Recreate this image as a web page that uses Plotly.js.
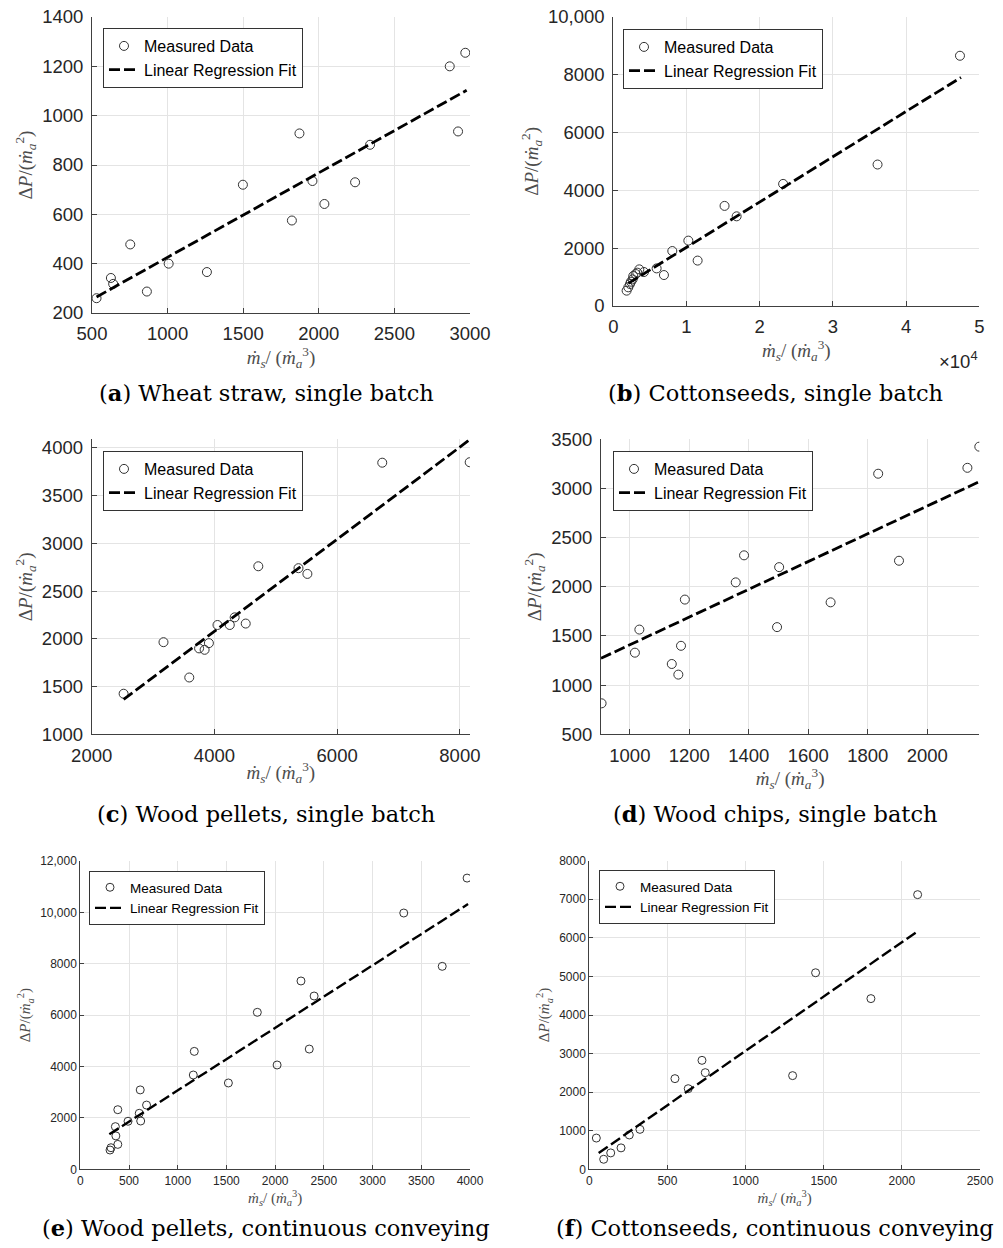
<!DOCTYPE html>
<html>
<head>
<meta charset="utf-8">
<script src="https://cdn.plot.ly/plotly-3.0.1.min.js"></script>
<style>html,body{margin:0;padding:0;background:#fff;}#chart{width:1003px;height:1248px;}</style>
</head>
<body>
<div id="chart"></div>
<script>
// ---------- data ----------
const aX = [530, 625, 640, 753, 863, 1007, 1260, 1498, 1822, 1872, 1958, 2037, 2240, 2339, 2866, 2921, 2969];
const aY = [260, 342, 318, 478, 287, 400, 366, 720, 575, 928, 735, 642, 730, 882, 1200, 936, 1255];
const aFitX = [530, 2978];
const aFitY = [265, 1103];

const bX = [1820, 2050, 2280, 2410, 2640, 2730, 3050, 3280, 3550, 4190, 5920, 6920, 8060, 10250, 11520, 15200, 16850, 23200, 36100, 47360];
const bY = [530, 645, 760, 840, 920, 1037, 1106, 1152, 1267, 1175, 1300, 1070, 1900, 2260, 1570, 3460, 3100, 4220, 4890, 8650];
const bFitX = [2050, 47500];
const bFitY = [783, 7900];

const cX = [2520, 3170, 3590, 3750, 3840, 3910, 4050, 4250, 4330, 4510, 4715, 5370, 5515, 6735, 8160];
const cY = [1425, 1965, 1595, 1900, 1885, 1955, 2145, 2145, 2225, 2160, 2760, 2740, 2680, 3845, 3850];
const cFitX = [2520, 8165];
const cFitY = [1365, 4088];

const dX = [905, 1017, 1032, 1141, 1163, 1172, 1185, 1356, 1384, 1495, 1502, 1582, 1675, 1835, 1905, 2135, 2175];
const dY = [815, 1330, 1565, 1215, 1107, 1400, 1870, 2045, 2320, 1590, 2200, 2840, 1842, 3150, 2265, 3210, 3425];
const dFitX = [903, 2176];
const dFitY = [1273, 3070];

const eX = [305, 315, 365, 360, 385, 385, 490, 605, 620, 615, 680, 1160, 1170, 1520, 1817, 2020, 2265, 2350, 2400, 3320, 3715, 3970];
const eY = [750, 840, 1300, 1660, 970, 2320, 1870, 2180, 1880, 3090, 2500, 3670, 4590, 3360, 6110, 4060, 7330, 4680, 6745, 9975, 7900, 11335];
const eFitX = [298, 3980];
const eFitY = [1362, 10324];

const fX = [45, 92, 137, 203, 256, 324, 548, 633, 721, 742, 1301, 1448, 1802, 2101];
const fY = [810, 260, 425, 555, 890, 1035, 2350, 2090, 2825, 2505, 2428, 5095, 4425, 7120];
const fFitX = [60, 2095];
const fFitY = [423, 6154];

// tick values / labels
const aXTicks = [500, 1000, 1500, 2000, 2500, 3000];
const aYTicks = [200, 400, 600, 800, 1000, 1200, 1400];
const bXTicks = [0, 10000, 20000, 30000, 40000, 50000];
const bXTickText = ['0', '1', '2', '3', '4', '5'];
const bYTicks = [0, 2000, 4000, 6000, 8000, 10000];
const bYTickText = ['0', '2000', '4000', '6000', '8000', '10,000'];
const cXTicks = [2000, 4000, 6000, 8000];
const cYTicks = [1000, 1500, 2000, 2500, 3000, 3500, 4000];
const dXTicks = [1000, 1200, 1400, 1600, 1800, 2000];
const dYTicks = [500, 1000, 1500, 2000, 2500, 3000, 3500];
const eXTicks = [0, 500, 1000, 1500, 2000, 2500, 3000, 3500, 4000];
const eYTicks = [0, 2000, 4000, 6000, 8000, 10000, 12000];
const eYTickText = ['0', '2000', '4000', '6000', '8000', '10,000', '12,000'];
const fXTicks = [0, 500, 1000, 1500, 2000, 2500];
const fYTicks = [0, 1000, 2000, 3000, 4000, 5000, 6000, 7000, 8000];

const captions = ['(<b>a</b>) Wheat straw, single batch', '(<b>b</b>) Cottonseeds, single batch',
  '(<b>c</b>) Wood pellets, single batch', '(<b>d</b>) Wood chips, single batch',
  '(<b>e</b>) Wood pellets, continuous conveying', '(<b>f</b>) Cottonseeds, continuous conveying'];
const seriesNames = ['Measured Data', 'Linear Regression Fit'];

// ---------- layout helpers ----------
const W = 1003, H = 1248;
const px = v => v / W;
const py = v => 1 - v / H;

const panels = [
  {x: aX, y: aY, fx: aFitX, fy: aFitY, xr: [500, 3000], yr: [200, 1400], xt: aXTicks, yt: aYTicks,
   dom: [92, 470, 17, 313], leg: [103, 28], cap: [266, 393], big: true},
  {x: bX, y: bY, fx: bFitX, fy: bFitY, xr: [0, 50000], yr: [0, 10000], xt: bXTicks, xtt: bXTickText, yt: bYTicks, ytt: bYTickText,
   dom: [613.3, 979.3, 16.7, 306], leg: [623, 29], cap: [775, 393], big: true},
  {x: cX, y: cY, fx: cFitX, fy: cFitY, xr: [2000, 8165], yr: [1000, 4090], xt: cXTicks, yt: cYTicks,
   dom: [91.7, 470, 439.3, 734.3], leg: [103, 451], cap: [266, 814], big: true},
  {x: dX, y: dY, fx: dFitX, fy: dFitY, xr: [903, 2175], yr: [500, 3500], xt: dXTicks, yt: dYTicks,
   dom: [601, 979.3, 439.3, 734.3], leg: [613, 451], cap: [775, 814], big: true},
  {x: eX, y: eY, fx: eFitX, fy: eFitY, xr: [0, 4000], yr: [0, 12000], xt: eXTicks, yt: eYTicks, ytt: eYTickText,
   dom: [80.3, 470, 861, 1169.3], leg: [89, 871], cap: [266, 1228], big: false},
  {x: fX, y: fY, fx: fFitX, fy: fFitY, xr: [0, 2500], yr: [0, 8000], xt: fXTicks, yt: fYTicks,
   dom: [589.3, 980, 860.7, 1169.3], leg: [599, 870], cap: [775, 1228], big: false}
];

const xTitle = '<i>ṁ</i><sub><i>s</i></sub>/ (<i>ṁ</i><sub><i>a</i></sub><sup>3</sup>)';
const yTitle = 'Δ<i>P</i>/(<i>ṁ</i><sub><i>a</i></sub><sup>2</sup>)';

const axisCol = '#404040';
const gridCol = '#e4e4e4';
const traces = [];
const layout = {
  width: W, height: H,
  margin: {l: 0, r: 0, t: 0, b: 0},
  paper_bgcolor: '#ffffff', plot_bgcolor: '#ffffff',
  font: {family: 'Liberation Sans, Arial, sans-serif', color: '#262626'},
  annotations: [],
  showlegend: true
};

panels.forEach((p, i) => {
  const n = i + 1;
  const xa = 'x' + (n === 1 ? '' : n);
  const ya = 'y' + (n === 1 ? '' : n);
  const legId = 'legend' + (n === 1 ? '' : n);
  const tickSize = p.big ? 18.5 : 12;
  const legSize = p.big ? 16 : 13.5;
  const titleSize = p.big ? 19 : 15;
  const mSize = p.big ? 9 : 8;

  traces.push({
    type: 'scatter', mode: 'markers', x: p.x, y: p.y, xaxis: xa, yaxis: ya,
    name: seriesNames[0], legend: legId,
    marker: {symbol: 'circle-open', size: mSize, color: '#333333', line: {width: 1, color: '#333333'}},
    hoverinfo: 'x+y'
  });
  traces.push({
    type: 'scatter', mode: 'lines', x: p.fx, y: p.fy, xaxis: xa, yaxis: ya,
    name: seriesNames[1], legend: legId,
    line: {color: '#000000', width: p.big ? 2.8 : 2.4, dash: '11px,4px'},
    hoverinfo: 'x+y'
  });

  const axCommon = {
    showline: true, linecolor: axisCol, linewidth: 1,
    ticks: 'inside', ticklen: p.big ? 5 : 4, tickcolor: axisCol, tickwidth: 1,
    showgrid: true, gridcolor: gridCol, gridwidth: 1,
    zeroline: false, mirror: false,
    tickfont: {size: tickSize, color: '#262626', family: 'Liberation Sans, Arial, sans-serif'},
    tickmode: 'array', fixedrange: true,
    ticklabelstandoff: p.big ? 4 : 0
  };
  layout['xaxis' + (n === 1 ? '' : n)] = Object.assign({}, axCommon, {
    domain: [px(p.dom[0]), px(p.dom[1])], anchor: ya, range: p.xr,
    tickvals: p.xt, ticktext: p.xtt || p.xt.map(String),
    title: {text: xTitle, standoff: p.big ? 1 : 3,
            font: {family: 'Liberation Serif, DejaVu Serif, serif', size: titleSize, color: '#4d4d4d'}}
  });
  layout['yaxis' + (n === 1 ? '' : n)] = Object.assign({}, axCommon, {
    domain: [py(p.dom[3]), py(p.dom[2])], anchor: xa, range: p.yr,
    tickvals: p.yt, ticktext: p.ytt || p.yt.map(String),
    title: {text: yTitle, standoff: p.big ? 4 : 5,
            font: {family: 'Liberation Serif, DejaVu Serif, serif', size: titleSize, color: '#4d4d4d'}}
  });
  layout[legId] = {
    x: px(p.leg[0]), y: py(p.leg[1]), xref: 'paper', yref: 'paper',
    xanchor: 'left', yanchor: 'top',
    bgcolor: '#ffffff', bordercolor: '#333333', borderwidth: 1,
    font: {size: legSize, color: '#000000', family: 'Liberation Sans, Arial, sans-serif'},
    tracegroupgap: 0, itemwidth: 30
  };
  layout.annotations.push({
    text: captions[i], xref: 'paper', yref: 'paper',
    x: px(p.cap[0]), y: py(p.cap[1]), xanchor: 'center', yanchor: 'middle',
    showarrow: false,
    font: {family: 'DejaVu Serif, Liberation Serif, serif', size: 22.5, color: '#000000'}
  });
});

// exponent label for panel b
layout.annotations.push({
  text: '×10<sup>4</sup>', xref: 'paper', yref: 'paper',
  x: px(980), y: py(360), xanchor: 'right', yanchor: 'middle', showarrow: false,
  font: {family: 'Liberation Sans, Arial, sans-serif', size: 18.5, color: '#262626'}
});

Plotly.newPlot('chart', traces, layout, {staticPlot: true, displayModeBar: false});
</script>
</body>
</html>
